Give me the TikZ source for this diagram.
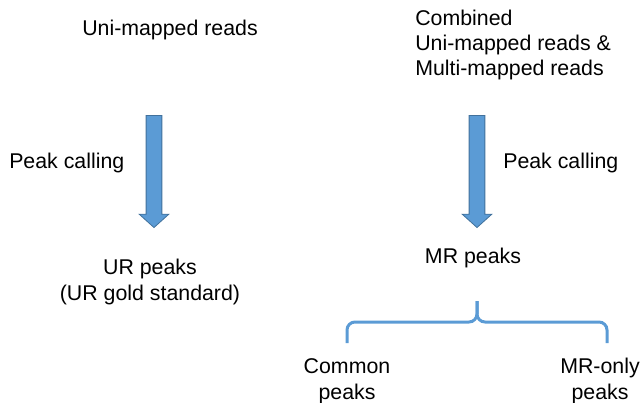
\documentclass[tikz,border=0pt]{standalone}
\usepackage{fontspec}
\setmainfont{Liberation Sans}
\usepackage{xcolor}
\usetikzlibrary{shapes.arrows}

\definecolor{arrowblue}{HTML}{5B9BD5}
\definecolor{arrowedge}{HTML}{41719C}

\begin{document}
\begin{tikzpicture}[
  x=0.75pt, y=-0.75pt,
  font=\fontsize{16}{19}\selectfont,
  lbl/.style={inner sep=0pt, align=center},
  blockarrow/.style={single arrow, shape border rotate=270, fill=arrowblue, draw=arrowedge, line width=0.6pt,
    inner sep=5.6pt, minimum height=84pt, single arrow head extend=5.25pt, single arrow tip angle=96},
  bracket/.style={draw=arrowblue, line width=2.25pt, rounded corners=6pt}
]
  \useasboundingbox (0,0) rectangle (643,403);

  \node[lbl, anchor=base] (unireads) at (170,36) {Uni-mapped reads};
  \node[lbl, anchor=base west, align=left] (allreads) at (415,76) {Combined\\Uni-mapped reads \&\\Multi-mapped reads};

  \node[blockarrow] (callarrowL) at (154,168) {};
  \node[blockarrow] (callarrowR) at (477,168) {};
  \node[lbl, anchor=base west] (callL) at (9,168) {Peak calling};
  \node[lbl, anchor=base west] (callR) at (503,168) {Peak calling};

  \node[lbl, anchor=base] (urpeaks) at (150,300) {UR peaks\\(UR gold standard)};
  \node[lbl, anchor=base] (mrpeaks) at (473,263) {MR peaks};

  \coordinate (braceL) at (347,343);
  \coordinate (braceR) at (607,343);
  \coordinate (braceM) at (477,301);
  \draw[bracket] (braceL) -- ++(0,-21) -- ++(130,0) -- (braceM);
  \draw[bracket] (braceR) -- ++(0,-21) -- ++(-130,0) -- (braceM);

  \node[lbl, anchor=base] (common) at (347,399) {Common\\peaks};
  \node[lbl, anchor=base] (mronly) at (600,399) {MR-only\\peaks};
\end{tikzpicture}
\end{document}
